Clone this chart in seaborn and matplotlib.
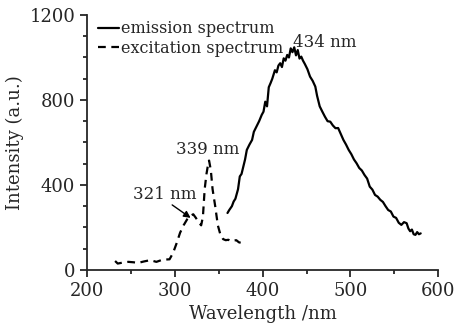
import numpy as np
import pandas as pd
import matplotlib
matplotlib.use("Agg")
import matplotlib.pyplot as plt
import seaborn as sns
from matplotlib.ticker import MultipleLocator

# emission spectrum (solid)
em_wl = [360, 362, 365, 367, 369, 372, 374, 376, 378, 380, 382, 385, 388, 390, 393, 396,
         399, 401, 403, 405, 407, 409, 411, 414, 416, 418, 420, 422, 424, 426, 428, 430,
         432, 434, 436, 438, 440, 442, 444, 446, 448, 451, 454, 457, 460, 462, 465, 468,
         471, 474, 477, 480, 483, 486, 489, 492, 495, 498, 501, 504, 507, 510, 513, 516,
         519, 522, 525, 528, 531, 534, 537, 540, 543, 546, 549, 552, 555, 558, 561, 564,
         566, 568, 570, 572, 574, 576, 578, 580]
em_int = [268, 282, 300, 322, 335, 380, 440, 452, 486, 520, 565, 590, 612, 650, 675, 700,
          730, 745, 792, 770, 860, 879, 900, 940, 930, 962, 973, 955, 996, 985, 1012, 1000,
          1043, 1025, 1048, 1010, 1035, 995, 1004, 985, 970, 945, 910, 890, 863, 820, 770, 745,
          721, 700, 698, 680, 667, 668, 640, 612, 590, 565, 545, 520, 502, 480, 468, 447,
          430, 392, 378, 353, 345, 330, 320, 300, 282, 275, 251, 245, 222, 212, 225, 220,
          195, 182, 190, 168, 165, 178, 168, 172]

# excitation spectrum (dashed)
ex_wl = [232, 235, 240, 247, 253, 258, 265, 272, 279, 286, 294, 298, 302, 306, 310, 314,
         318, 321, 324, 327, 330, 332, 334, 336, 338, 339, 341, 343, 346, 349, 352, 355,
         358, 361, 364, 367, 370, 373, 375]
ex_int = [42, 30, 34, 38, 36, 33, 40, 46, 38, 48, 50, 80, 125, 175, 210, 238,
          255, 262, 245, 225, 210, 250, 380, 450, 500, 515, 470, 380, 300, 210, 165, 145,
          140, 142, 135, 138, 140, 130, 128]

df_em = pd.DataFrame({"wl": em_wl, "I": em_int})
df_ex = pd.DataFrame({"wl": ex_wl, "I": ex_int})

sns.set_style("ticks")
plt.rcParams["font.family"] = ["DejaVu Serif"]
plt.rcParams["xtick.major.size"] = 5
plt.rcParams["ytick.major.size"] = 5
plt.rcParams["xtick.minor.size"] = 3
plt.rcParams["ytick.minor.size"] = 3

fig = plt.figure(figsize=(4.64, 3.26), dpi=100)
ax = fig.add_axes([0.1875, 0.172, 0.757, 0.782])

sns.lineplot(data=df_em, x="wl", y="I", ax=ax, color="black", lw=1.6,
             label="emission spectrum")
sns.lineplot(data=df_ex, x="wl", y="I", ax=ax, color="black", lw=1.6,
             linestyle=(0, (3.5, 2.5)), label="excitation spectrum")

ax.set_xlim(200, 600)
ax.set_ylim(0, 1200)
ax.xaxis.set_major_locator(MultipleLocator(100))
ax.xaxis.set_minor_locator(MultipleLocator(50))
ax.yaxis.set_major_locator(MultipleLocator(400))
ax.yaxis.set_minor_locator(MultipleLocator(100))
ax.tick_params(labelsize=13, width=1.3)
ax.tick_params(which="minor", width=1.3)
for s in ["left", "bottom"]:
    ax.spines[s].set_linewidth(1.3)
sns.despine(ax=ax)

ax.set_xlabel("Wavelength /nm", fontsize=13)
ax.set_ylabel("Intensity (a.u.)", fontsize=13)

ax.text(435, 1030, "434 nm", fontsize=12, va="bottom", ha="left")
ax.text(338, 525, "339 nm", fontsize=12, va="bottom", ha="center")
ax.text(252, 353, "321 nm", fontsize=12, va="center", ha="left")
ax.annotate("", xy=(318, 245), xytext=(297, 306),
            arrowprops=dict(arrowstyle="-|>", color="black", lw=1.0,
                            shrinkA=0, shrinkB=0))

leg = ax.legend(loc="upper left", frameon=False, fontsize=11.5, handlelength=1.3,
                handletextpad=0.1, borderaxespad=0.1, labelspacing=0.15,
                bbox_to_anchor=(0.01, 1.01))

fig.savefig("out.png", dpi=100)
